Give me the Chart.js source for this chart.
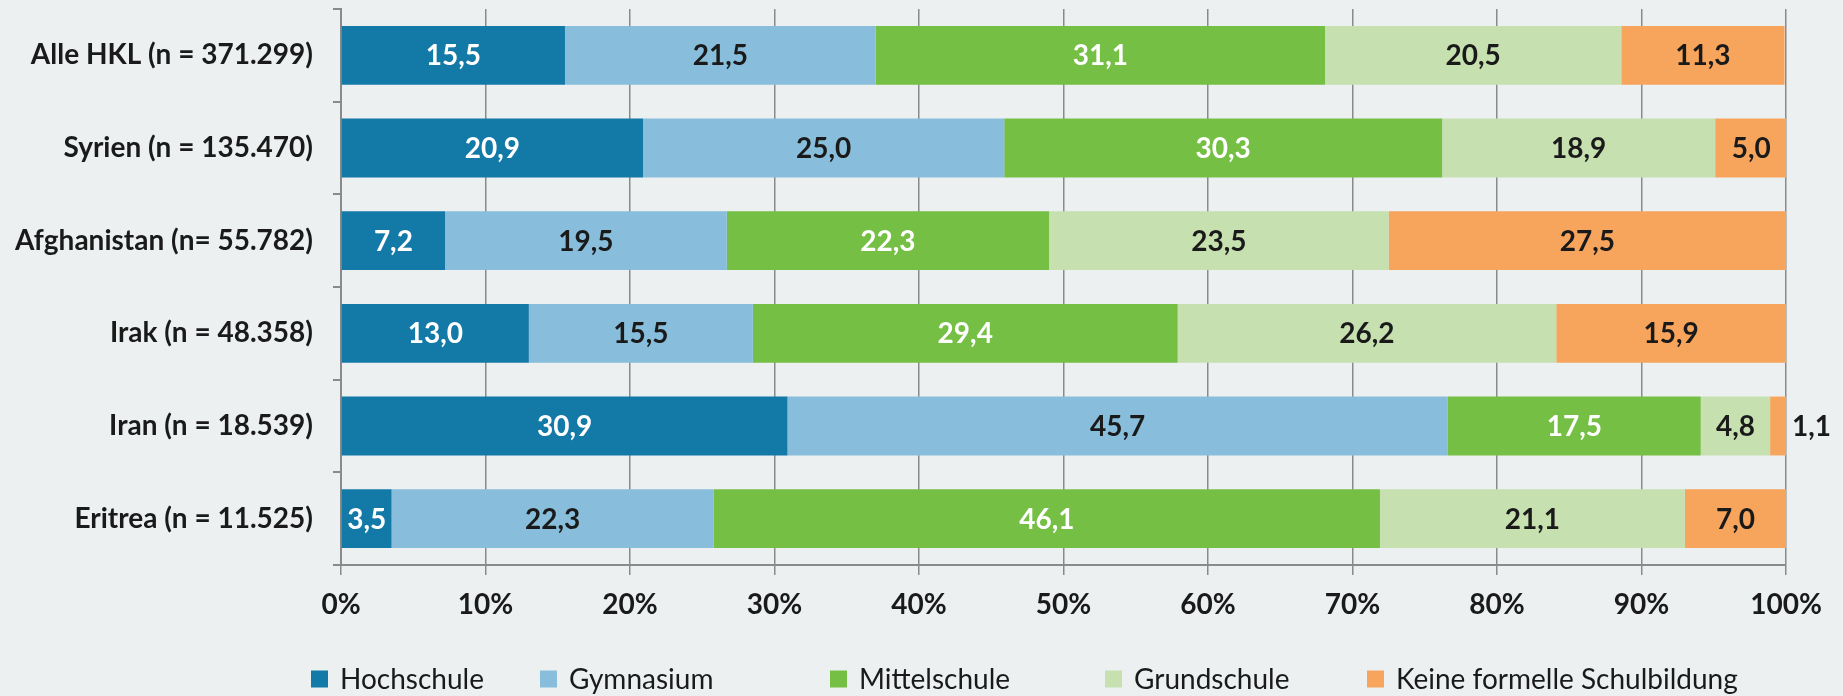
<!DOCTYPE html>
<html lang="de">
<head>
<meta charset="utf-8">
<title>Schulbildung nach Herkunftsland</title>
<script src="https://cdn.jsdelivr.net/npm/chart.js@4.4.1/dist/chart.umd.min.js"></script>
<style>
  html, body { margin: 0; padding: 0; background: #ecf0f1; }
  canvas { display: block; }
</style>
</head>
<body>
<canvas id="chart" width="1843" height="696"></canvas>
<script>
// ==================
//  DATEN
// ==================
const categories = [
  "Alle HKL (n = 371.299)",
  "Syrien (n = 135.470)",
  "Afghanistan (n= 55.782)",
  "Irak (n = 48.358)",
  "Iran (n = 18.539)",
  "Eritrea (n = 11.525)"
];
const seriesNames = ["Hochschule", "Gymnasium", "Mittelschule", "Grundschule", "Keine formelle Schulbildung"];
const hochschule = [15.5, 20.9, 7.2, 13.0, 30.9, 3.5];
const gymnasium = [21.5, 25.0, 19.5, 15.5, 45.7, 22.3];
const mittelschule = [31.1, 30.3, 22.3, 29.4, 17.5, 46.1];
const grundschule = [20.5, 18.9, 23.5, 26.2, 4.8, 21.1];
const keine = [11.3, 5.0, 27.5, 15.9, 1.1, 7.0];
const xTicks = [0, 10, 20, 30, 40, 50, 60, 70, 80, 90, 100];

const COLORS = ["#137aa8", "#88bedb", "#74bf44", "#c6e0b0", "#f7a55c"];
const LABEL_COLORS = ["#ffffff", "#1a1a1a", "#ffffff", "#1a1a1a", "#1a1a1a"];
const FONT = "Lato, 'Open Sans', sans-serif";
const GRID = "#8a8a8a";

const fmt = (v) => v.toFixed(1).replace(".", ",");

// ==================
//  PLUGINS
// ==================
const background = {
  id: "background",
  beforeDraw(chart) {
    const ctx = chart.ctx;
    ctx.save();
    ctx.fillStyle = "#ecf0f1";
    ctx.fillRect(0, 0, chart.width, chart.height);
    ctx.restore();
  }
};

// Werte in die Balken schreiben (zu schmale Segmente rechts daneben)
const valueLabels = {
  id: "valueLabels",
  afterDatasetsDraw(chart) {
    const ctx = chart.ctx;
    ctx.save();
    ctx.font = `bold 28px ${FONT}`;
    ctx.textBaseline = "middle";
    chart.data.datasets.forEach((ds, di) => {
      chart.getDatasetMeta(di).data.forEach((bar, i) => {
        const text = fmt(ds.data[i]);
        const w = Math.abs(bar.x - bar.base);
        const tw = ctx.measureText(text).width;
        if (w < tw + 4) {
          ctx.fillStyle = "#1a1a1a";
          ctx.textAlign = "left";
          ctx.fillText(text, Math.max(bar.x, bar.base) + 6, bar.y + 1);
        } else {
          ctx.fillStyle = LABEL_COLORS[di];
          ctx.textAlign = "center";
          ctx.fillText(text, (bar.x + bar.base) / 2, bar.y + 1);
        }
      });
    });
    ctx.restore();
  }
};

// Legende unten; Spalten wie im Original
const LEGEND_X = [311, 540, 830, 1105, 1367];
const bottomLegend = {
  id: "bottomLegend",
  afterDraw(chart) {
    const ctx = chart.ctx;
    const y = 679;
    const box = 17;
    ctx.save();
    ctx.font = `28px ${FONT}`;
    ctx.textBaseline = "middle";
    ctx.textAlign = "left";
    chart.data.datasets.forEach((ds, i) => {
      const x = LEGEND_X[i];
      ctx.fillStyle = ds.backgroundColor;
      ctx.fillRect(x, y - box / 2, box, box);
      ctx.fillStyle = "#1a1a1a";
      ctx.fillText(ds.label, x + box + 12, y + 1);
    });
    ctx.restore();
  }
};

// ==================
//  DIAGRAMM
// ==================
const seriesData = [hochschule, gymnasium, mittelschule, grundschule, keine];

new Chart(document.getElementById("chart").getContext("2d"), {
  type: "bar",
  data: {
    labels: categories,
    datasets: seriesNames.map((name, i) => ({
      label: name,
      data: seriesData[i],
      backgroundColor: COLORS[i],
      borderWidth: 0,
      barPercentage: 0.635,
      categoryPercentage: 1
    }))
  },
  options: {
    indexAxis: "y",
    responsive: false,
    animation: false,
    layout: { padding: { top: 9, right: 57, bottom: 79, left: 0 } },
    plugins: {
      legend: { display: false },
      tooltip: { enabled: false }
    },
    scales: {
      x: {
        stacked: true,
        min: 0,
        max: 100,
        afterBuildTicks: (s) => { s.ticks = xTicks.map((v) => ({ value: v })); },
        afterFit: (s) => { s.height = 52; },
        grid: { color: GRID, lineWidth: 1.5, tickLength: 10 },
        border: { color: GRID, width: 2 },
        ticks: {
          padding: 13,
          color: "#1a1a1a",
          font: { family: FONT, size: 28, weight: "bold" },
          callback: (v) => `${v}%`
        }
      },
      y: {
        stacked: true,
        afterFit: (s) => {
          s.width = 341;
          s.paddingTop = 0;
          s.paddingBottom = 0;
        },
        grid: { offset: true, drawOnChartArea: false, color: GRID, lineWidth: 2, tickLength: 8 },
        border: { color: GRID, width: 2 },
        ticks: {
          padding: 20,
          color: "#1a1a1a",
          font: { family: FONT, size: 28, weight: "bold" }
        }
      }
    }
  },
  plugins: [background, valueLabels, bottomLegend]
});
</script>
</body>
</html>
